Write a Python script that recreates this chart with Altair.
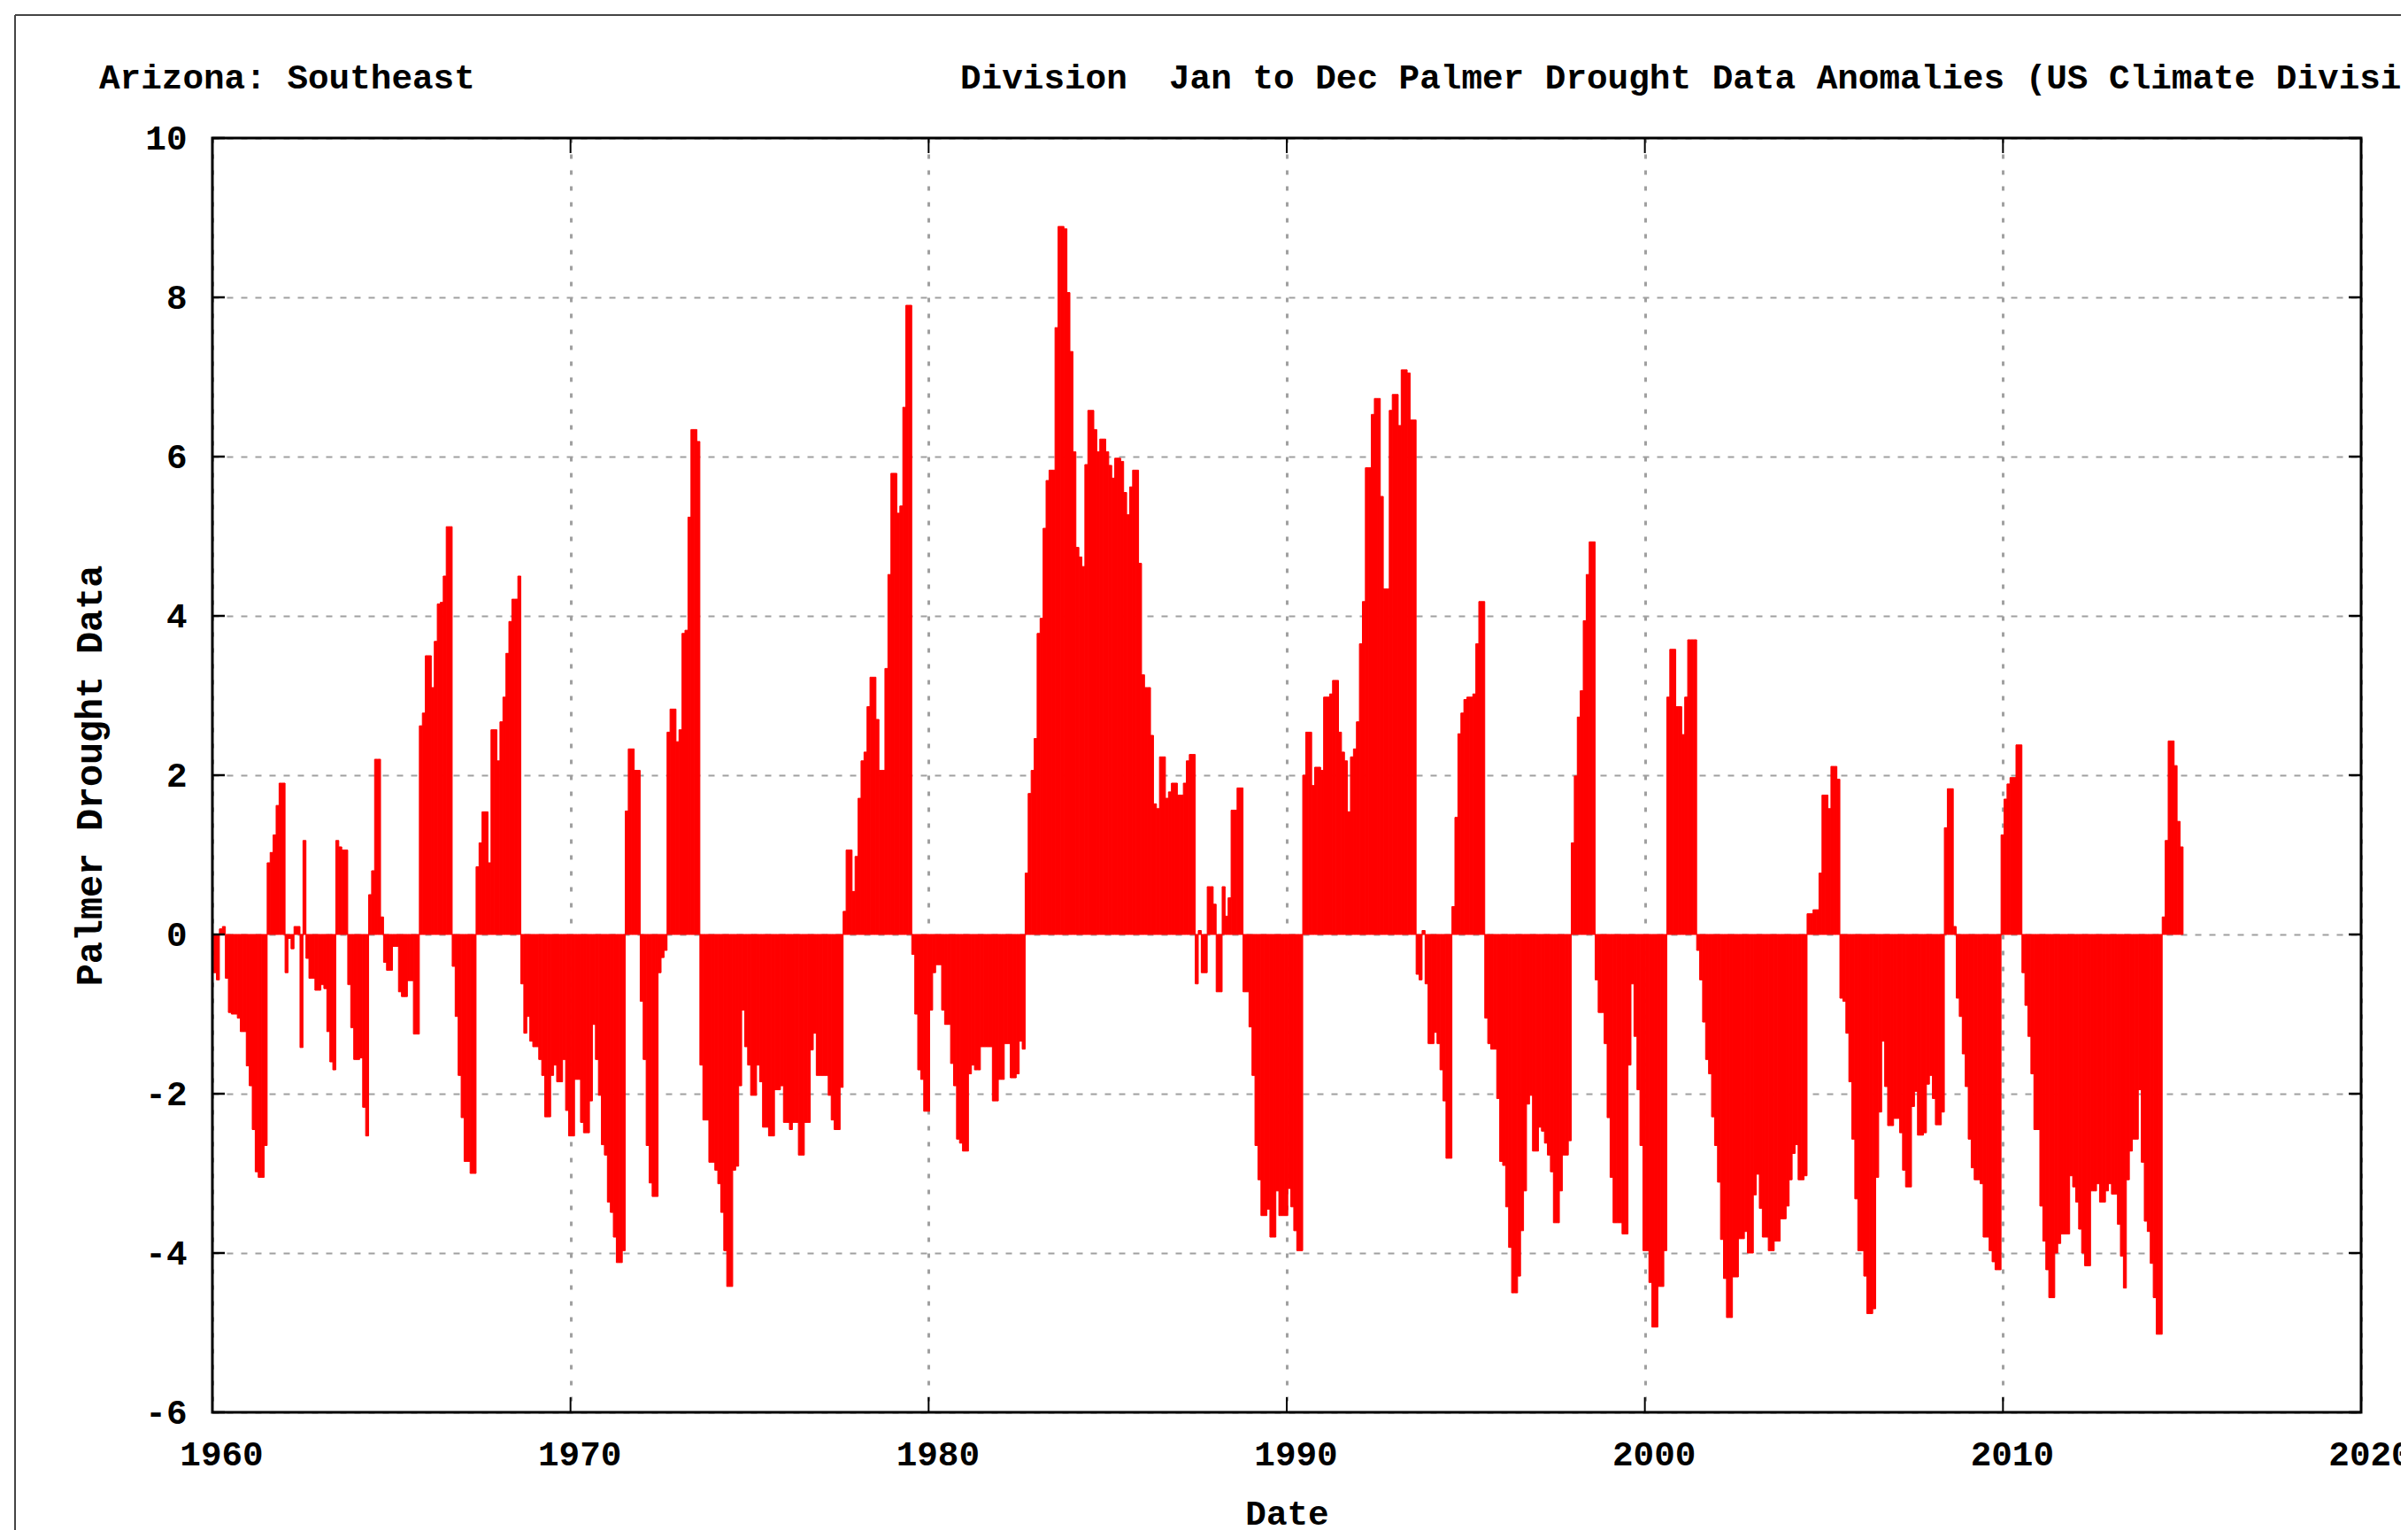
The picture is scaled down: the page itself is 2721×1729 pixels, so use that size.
import altair as alt
import pandas as pd

# Monthly Palmer drought anomalies, Arizona Southeast division
y1960 = [-0.48, -0.57, 0.07, 0.1, -0.55, -0.98, -1.0, -1.0, -1.05, -1.22, -1.22, -1.65]
y1961 = [-1.9, -2.45, -2.98, -3.05, -3.05, -2.65, 0.9, 1.03, 1.25, 1.62, 1.9, 1.9]
y1962 = [-0.48, -0.05, -0.18, 0.1, 0.1, -1.42, 1.18, -0.3, -0.55, -0.55, -0.7, -0.7]
y1963 = [-0.63, -0.68, -1.22, -1.6, -1.7, 1.18, 1.1, 1.06, 1.06, -0.63, -1.17, -1.57]
y1964 = [-1.57, -1.55, -2.17, -2.53, 0.5, 0.8, 2.2, 2.2, 0.22, -0.35, -0.45, -0.45]
y1965 = [-0.15, -0.15, -0.72, -0.78, -0.78, -0.58, -0.58, -1.25, -1.25, 2.62, 2.78, 3.5]
y1966 = [3.5, 3.1, 3.68, 4.15, 4.17, 4.5, 5.12, 5.12, -0.4, -1.03, -1.77, -2.3]
y1967 = [-2.85, -2.85, -3.0, -3.0, 0.85, 1.15, 1.54, 1.54, 0.9, 2.57, 2.57, 2.18]
y1968 = [2.67, 2.98, 3.53, 3.93, 4.21, 4.21, 4.5, -0.62, -1.24, -1.03, -1.34, -1.41]
y1969 = [-1.41, -1.57, -1.77, -2.29, -2.29, -1.77, -1.64, -1.85, -1.85, -1.57, -2.21, -2.53]
y1970 = [-2.53, -1.82, -1.82, -2.36, -2.49, -2.49, -2.09, -1.13, -1.57, -2.02, -2.64, -2.77]
y1971 = [-3.36, -3.49, -3.8, -4.12, -4.12, -3.97, 1.55, 2.33, 2.33, 2.06, 2.06, -0.84]
y1972 = [-1.57, -2.65, -3.12, -3.29, -3.29, -0.48, -0.29, -0.2, 2.54, 2.83, 2.83, 2.42]
y1973 = [2.57, 3.78, 3.82, 5.24, 6.34, 6.34, 6.19, -1.64, -2.33, -2.33, -2.86, -2.86]
y1974 = [-2.96, -3.13, -3.49, -3.97, -4.42, -4.42, -2.96, -2.91, -1.9, -0.95, -1.41, -1.64]
y1975 = [-2.02, -2.02, -1.64, -1.85, -2.42, -2.42, -2.53, -2.53, -1.95, -1.95, -1.9, -2.36]
y1976 = [-2.36, -2.45, -2.36, -2.36, -2.77, -2.77, -2.36, -2.36, -1.45, -1.24, -1.77, -1.77]
y1977 = [-1.77, -1.77, -2.02, -2.33, -2.45, -2.45, -1.92, 0.29, 1.06, 1.06, 0.54, 0.98]
y1978 = [1.71, 2.18, 2.29, 2.86, 3.23, 3.23, 2.7, 2.06, 2.06, 3.34, 4.52, 5.79]
y1979 = [5.79, 5.29, 5.38, 6.62, 7.9, 7.9, -0.25, -1.0, -1.7, -1.82, -2.22, -2.22]
y1980 = [-0.95, -0.48, -0.38, -0.38, -0.95, -1.13, -1.13, -1.62, -1.9, -2.57, -2.62, -2.72]
y1981 = [-2.72, -1.75, -1.64, -1.7, -1.7, -1.41, -1.41, -1.41, -1.41, -2.09, -2.09, -1.82]
y1982 = [-1.82, -1.37, -1.37, -1.8, -1.8, -1.75, -1.34, -1.44, 0.77, 1.77, 2.06, 2.46]
y1983 = [3.78, 3.97, 5.1, 5.7, 5.83, 5.83, 7.62, 8.89, 8.89, 8.86, 8.06, 7.32]
y1984 = [6.06, 4.86, 4.74, 4.62, 5.9, 6.58, 6.58, 6.34, 6.06, 6.22, 6.22, 6.06]
y1985 = [5.89, 5.73, 5.98, 5.98, 5.94, 5.55, 5.27, 5.62, 5.83, 5.83, 4.66, 3.26]
y1986 = [3.1, 3.1, 2.5, 1.64, 1.58, 2.23, 2.23, 1.71, 1.79, 1.9, 1.9, 1.75]
y1987 = [1.75, 1.9, 2.18, 2.26, 2.26, -0.62, 0.05, -0.48, -0.48, 0.6, 0.6, 0.38]
y1988 = [-0.72, -0.72, 0.6, 0.23, 0.46, 1.56, 1.56, 1.84, 1.84, -0.72, -0.72, -1.16]
y1989 = [-1.77, -2.65, -3.08, -3.53, -3.53, -3.45, -3.8, -3.8, -3.22, -3.53, -3.53, -3.53]
y1990 = [-3.19, -3.42, -3.72, -3.97, -3.97, 2.0, 2.54, 2.54, 1.87, 2.1, 2.1, 2.06]
y1991 = [2.98, 2.98, 3.02, 3.19, 3.19, 2.54, 2.29, 2.18, 1.54, 2.23, 2.33, 2.67]
y1992 = [3.65, 4.18, 5.86, 5.86, 6.53, 6.73, 6.73, 5.5, 4.34, 4.34, 6.58, 6.78]
y1993 = [6.78, 6.39, 7.09, 7.09, 7.05, 6.46, 6.46, -0.5, -0.57, 0.05, -0.62, -1.37]
y1994 = [-1.37, -1.23, -1.37, -1.7, -2.09, -2.81, -2.81, 0.35, 1.47, 2.52, 2.78, 2.95]
y1995 = [2.98, 2.98, 3.02, 3.65, 4.18, 4.18, -1.05, -1.37, -1.44, -1.44, -2.06, -2.85]
y1996 = [-2.9, -3.42, -3.93, -4.5, -4.5, -4.29, -3.72, -3.22, -2.13, -2.02, -2.72, -2.72]
y1997 = [-2.42, -2.47, -2.62, -2.77, -2.98, -3.62, -3.62, -3.22, -2.77, -2.77, -2.59, 1.15]
y1998 = [1.99, 2.73, 3.06, 3.94, 4.52, 4.93, 4.93, -0.57, -0.98, -0.98, -1.37, -2.3]
y1999 = [-3.05, -3.62, -3.62, -3.62, -3.76, -3.76, -1.64, -0.62, -1.28, -1.95, -2.65, -3.97]
y2000 = [-3.97, -4.37, -4.93, -4.93, -4.42, -4.42, -3.97, 2.98, 3.58, 3.58, 2.86, 2.86]
y2001 = [2.51, 2.98, 3.7, 3.7, 3.7, -0.2, -0.57, -1.1, -1.57, -1.75, -2.29, -2.65]
y2002 = [-3.11, -3.83, -4.32, -4.81, -4.81, -4.3, -4.3, -3.82, -3.82, -3.73, -4.0, -4.0]
y2003 = [-3.27, -3.01, -3.44, -3.8, -3.8, -3.97, -3.97, -3.85, -3.85, -3.57, -3.57, -3.41]
y2004 = [-3.08, -2.75, -2.64, -3.08, -3.08, -3.03, 0.26, 0.26, 0.31, 0.31, 0.77, 1.75]
y2005 = [1.75, 1.58, 2.11, 2.11, 1.95, -0.8, -0.84, -1.24, -1.85, -2.57, -3.32, -3.97]
y2006 = [-3.97, -4.29, -4.76, -4.76, -4.7, -3.05, -2.23, -1.34, -1.91, -2.4, -2.4, -2.31]
y2007 = [-2.31, -2.49, -2.96, -3.17, -3.17, -2.16, -1.97, -2.52, -2.52, -2.49, -1.88, -1.77]
y2008 = [-2.06, -2.39, -2.39, -2.23, 1.34, 1.83, 1.83, 0.1, -0.8, -1.03, -1.5, -1.91]
y2009 = [-2.57, -2.93, -3.08, -3.08, -3.13, -3.8, -3.8, -3.97, -4.11, -4.21, -4.21, 1.25]
y2010 = [1.7, 1.89, 1.97, 1.97, 2.38, 2.38, -0.48, -0.89, -1.28, -1.75, -2.45, -2.45]
y2011 = [-3.41, -3.85, -4.21, -4.56, -4.56, -4.0, -3.88, -3.76, -3.76, -3.76, -3.03, -3.17]
y2012 = [-3.36, -3.7, -4.0, -4.16, -4.16, -3.22, -3.22, -3.13, -3.36, -3.36, -3.22, -3.13]
y2013 = [-3.26, -3.26, -3.64, -4.04, -4.44, -3.08, -2.72, -2.57, -2.57, -1.95, -2.86, -3.6]
y2014 = [-3.73, -4.13, -4.56, -5.02, -5.02, 0.22, 1.18, 2.43, 2.43, 2.12, 1.42, 1.1]

series = [
    y1960, y1961, y1962, y1963, y1964, y1965, y1966, y1967, y1968, y1969,
    y1970, y1971, y1972, y1973, y1974, y1975, y1976, y1977, y1978, y1979,
    y1980, y1981, y1982, y1983, y1984, y1985, y1986, y1987, y1988, y1989,
    y1990, y1991, y1992, y1993, y1994, y1995, y1996, y1997, y1998, y1999,
    y2000, y2001, y2002, y2003, y2004, y2005, y2006, y2007, y2008, y2009,
    y2010, y2011, y2012, y2013, y2014,
]
first_year = 1960

x_ticks = [1960, 1970, 1980, 1990, 2000, 2010, 2020]
y_ticks = [-6, -4, -2, 0, 2, 4, 6, 8, 10]

TITLE_LEFT = "Arizona: Southeast"
TITLE_RIGHT = ("Division\u00a0\u00a0Jan to Dec Palmer Drought Data "
               "Anomalies (US Climate Divisi")

rows = []
for yi, vals in enumerate(series):
    for mi, v in enumerate(vals):
        m = yi * 12 + mi
        start = first_year + (m + 0.35) / 12.0
        rows.append({"x": start, "x2": start + 1.0 / 12.0, "v": v, "z": 0.0})
df = pd.DataFrame(rows)

FONT = "Liberation Mono"
FS = 39.33
W, H = 2428, 1440

xs = alt.Scale(domain=[1960, 2020], nice=False, zero=False)
ys = alt.Scale(domain=[-6, 10], nice=False, zero=False)

x_axis = alt.Axis(
    values=x_ticks, format="d", title="Date", grid=True,
    gridColor="#a0a0a0", gridDash=[5, 13], gridWidth=3,
    ticks=False, tickSize=0, domain=False, labelFlush=False,
    labelPadding=28, labelOffset=10, labelFont=FONT, labelFontSize=FS,
    labelFontWeight="bold", labelColor="black",
    titleFont=FONT, titleFontSize=FS, titleFontWeight="bold", titleColor="black",
    titleX=W / 2, titleY=126, titleBaseline="alphabetic", titleAlign="center")
y_axis = alt.Axis(
    values=y_ticks, title="Palmer Drought Data", grid=True,
    labelExpr="'' + datum.value",
    gridColor="#a0a0a0", gridDash=[7, 9], gridWidth=2,
    ticks=False, tickSize=0, domain=False, labelFlush=False,
    labelPadding=29, labelFont=FONT, labelFontSize=FS, labelFontWeight="bold",
    labelColor="black", labelBaseline="middle",
    titleFont=FONT, titleFontSize=41.7, titleFontWeight="bold", titleColor="black",
    titleX=-139, titleY=H / 2, titleAngle=270, titleAlign="center",
    titleBaseline="middle")

bars = alt.Chart(df).mark_rect(color="#ff0000", stroke="#ff0000", strokeWidth=1).encode(
    x=alt.X("x:Q", scale=xs, axis=x_axis),
    x2="x2:Q",
    y=alt.Y("v:Q", scale=ys, axis=y_axis),
    y2="z:Q",
)

xt = pd.DataFrame({"t": x_ticks})
yt = pd.DataFrame({"t": y_ticks})
one = pd.DataFrame({"k": [0]})

tick_x_bottom = alt.Chart(xt).mark_rule(color="black", strokeWidth=2).encode(
    x=alt.X("t:Q", scale=xs, axis=x_axis), y=alt.value(H), y2=alt.value(H - 17))
tick_x_top = alt.Chart(xt).mark_rule(color="black", strokeWidth=2).encode(
    x=alt.X("t:Q", scale=xs, axis=x_axis), y=alt.value(0), y2=alt.value(17))
tick_y_left = alt.Chart(yt).mark_rule(color="black", strokeWidth=2.5).encode(
    y=alt.Y("t:Q", scale=ys, axis=y_axis), x=alt.value(0), x2=alt.value(14))
tick_y_right = alt.Chart(yt).mark_rule(color="black", strokeWidth=2.5).encode(
    y=alt.Y("t:Q", scale=ys, axis=y_axis), x=alt.value(W), x2=alt.value(W - 14))

border = alt.Chart(one).mark_rect(fillOpacity=0, stroke="black", strokeWidth=3).encode(
    x=alt.value(0), x2=alt.value(W), y=alt.value(0), y2=alt.value(H))

frame_top = alt.Chart(one).mark_rule(color="#444444", strokeWidth=2).encode(
    x=alt.value(-223), x2=alt.value(W + 300), y=alt.value(-139))
frame_left = alt.Chart(one).mark_rule(color="#444444", strokeWidth=2).encode(
    x=alt.value(-223), y=alt.value(-139), y2=alt.value(H + 300))

title_left = alt.Chart(one).mark_text(
    text=TITLE_LEFT, font=FONT, fontSize=FS, fontWeight="bold", color="black",
    align="left", baseline="alphabetic").encode(x=alt.value(-128), y=alt.value(-56))
title_right = alt.Chart(one).mark_text(
    text=TITLE_RIGHT, font=FONT, fontSize=FS, fontWeight="bold", color="black",
    align="left", baseline="alphabetic").encode(x=alt.value(845), y=alt.value(-56))

chart = alt.layer(
    bars, tick_x_bottom, tick_x_top, tick_y_left, tick_y_right,
    border, frame_top, frame_left, title_left, title_right,
).properties(
    width=W, height=H,
    padding={"left": 232, "top": 148, "right": 45, "bottom": 133},
    autosize=alt.AutoSizeParams(type="none"),
    background="white",
).configure_view(stroke=None)

chart.save("out.html", embed_options={"renderer": "svg", "actions": False})
